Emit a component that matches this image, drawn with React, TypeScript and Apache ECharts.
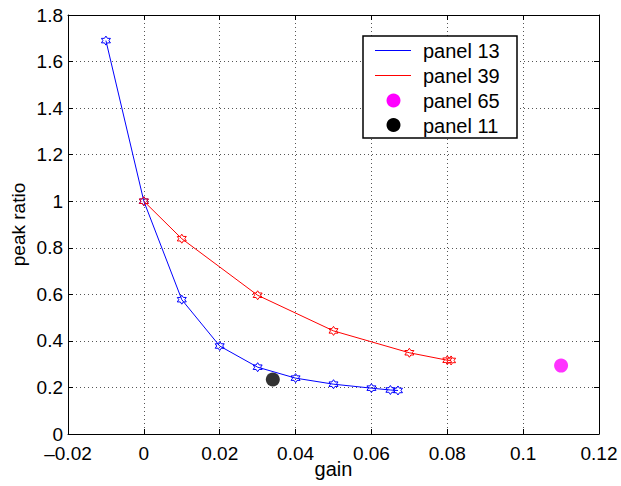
import React, { useEffect, useRef } from "react";
import * as echarts from "echarts";

const blueX = [-0.01, 0, 0.01, 0.02, 0.03, 0.04, 0.05, 0.06, 0.065, 0.067];
const blueY = [1.69, 1.0, 0.577, 0.378, 0.287, 0.24, 0.214, 0.197, 0.189, 0.187];
const redX = [0, 0.01, 0.03, 0.05, 0.07, 0.08, 0.081];
const redY = [1.0, 0.839, 0.596, 0.443, 0.349, 0.317, 0.316];
const panel65 = [[0.11, 0.294]];
const panel11 = [[0.034, 0.234]];
const legendNames = ["panel 13", "panel 39", "panel 65", "panel 11"];

const FONT = "'Liberation Sans', Arial, Helvetica, sans-serif";
const HEX =
  "path://M50,0 L64.43,25 L93.3,25 L78.87,50 L93.3,75 L64.43,75 L50,100 L35.57,75 L6.7,75 L21.13,50 L6.7,25 L35.57,25 Z";

const fmt = (v: number) => {
  const n = parseFloat(v.toFixed(4));
  const s = String(Math.abs(n));
  return n < 0 ? "\u2013" + s : s;
};

export default function App() {
  const ref = useRef<HTMLDivElement>(null);
  useEffect(() => {
    const chart = echarts.init(ref.current!, null, { renderer: "svg" });
    const zip = (xs: number[], ys: number[]) => xs.map((x, i) => [x, ys[i]]);
    const grid = {
      left: 68,
      right: 22,
      top: 15,
      bottom: 52,
      containLabel: false,
      outerBoundsMode: "none",
    };
    const lx = 363, ly = 36;
    const rows = [50.5, 75.5, 100.5, 125];
    chart.setOption({
      animation: false,
      backgroundColor: "#fff",
      textStyle: { fontFamily: FONT },
      grid,
      xAxis: [
        {
          type: "value",
          min: -0.02,
          max: 0.12,
          interval: 0.02,
          name: "gain",
          nameLocation: "middle",
          nameGap: 25,
          nameMoveOverlap: false,
          nameTextStyle: { color: "#000", fontSize: 20, fontFamily: FONT },
          axisLine: { show: true, onZero: false, lineStyle: { color: "#000", width: 1 } },
          axisTick: { show: true, inside: true, length: 5, lineStyle: { color: "#000" } },
          axisLabel: { color: "#000", fontSize: 19, lineHeight: 16, fontFamily: FONT, margin: 11, formatter: fmt },
          splitLine: { show: true, lineStyle: { color: "#555", type: [1, 3], width: 1 } },
        },
        {
          type: "value",
          position: "top",
          min: -0.02,
          max: 0.12,
          interval: 0.02,
          axisLine: { show: true, onZero: false, lineStyle: { color: "#000", width: 1 } },
          axisTick: { show: true, inside: true, length: 5, lineStyle: { color: "#000" } },
          axisLabel: { show: false },
          splitLine: { show: false },
        },
      ],
      yAxis: [
        {
          type: "value",
          min: 0,
          max: 1.8,
          interval: 0.2,
          name: "peak ratio",
          nameLocation: "middle",
          nameGap: 40,
          nameMoveOverlap: false,
          nameTextStyle: { color: "#000", fontSize: 19, fontFamily: FONT },
          axisLine: { show: true, onZero: false, lineStyle: { color: "#000", width: 1 } },
          axisTick: { show: true, inside: true, length: 5, lineStyle: { color: "#000" } },
          axisLabel: { color: "#000", fontSize: 19, lineHeight: 14, fontFamily: FONT, margin: 5, formatter: fmt },
          splitLine: { show: true, lineStyle: { color: "#555", type: [1, 3], width: 1 } },
        },
        {
          type: "value",
          position: "right",
          min: 0,
          max: 1.8,
          interval: 0.2,
          axisLine: { show: true, onZero: false, lineStyle: { color: "#000", width: 1 } },
          axisTick: { show: true, inside: true, length: 5, lineStyle: { color: "#000" } },
          axisLabel: { show: false },
          splitLine: { show: false },
        },
      ],
      series: [
        {
          name: legendNames[0],
          type: "line",
          data: zip(blueX, blueY),
          color: "#0000ff",
          lineStyle: { color: "#0000ff", width: 1 },
          symbol: HEX,
          symbolSize: 9,
          itemStyle: { color: "rgba(255,255,255,0)", borderColor: "#0000ff", borderWidth: 1 },
          z: 3,
        },
        {
          name: legendNames[1],
          type: "line",
          data: zip(redX, redY),
          color: "#ff0000",
          lineStyle: { color: "#ff0000", width: 1 },
          symbol: HEX,
          symbolSize: 9,
          itemStyle: { color: "rgba(255,255,255,0)", borderColor: "#ff0000", borderWidth: 1 },
          z: 4,
        },
        {
          name: legendNames[2],
          type: "scatter",
          data: panel65,
          symbol: "circle",
          symbolSize: 14,
          itemStyle: { color: "#ff00ff" },
        },
        {
          name: legendNames[3],
          type: "scatter",
          data: panel11,
          symbol: "circle",
          symbolSize: 14,
          itemStyle: { color: "#000000" },
        },
      ],
      graphic: [
        {
          type: "rect",
          shape: { x: lx, y: ly, width: 154, height: 102 },
          style: { fill: "#fff", stroke: "#000", lineWidth: 1.5 },
          z: 100,
        },
        {
          type: "line",
          shape: { x1: lx + 12, y1: rows[0], x2: lx + 48, y2: rows[0] },
          style: { stroke: "#0000ff", lineWidth: 1 },
          z: 101,
        },
        {
          type: "line",
          shape: { x1: lx + 12, y1: rows[1], x2: lx + 48, y2: rows[1] },
          style: { stroke: "#ff0000", lineWidth: 1 },
          z: 101,
        },
        {
          type: "circle",
          shape: { cx: lx + 30.5, cy: rows[2], r: 7 },
          style: { fill: "#ff00ff" },
          z: 101,
        },
        {
          type: "circle",
          shape: { cx: lx + 30.5, cy: rows[3], r: 7 },
          style: { fill: "#000" },
          z: 101,
        },
        ...legendNames.map((n, i) => ({
          type: "text",
          x: lx + 60,
          y: rows[i] + 0.5,
          style: {
            text: n,
            fill: "#000",
            font: `20px ${FONT}`,
            verticalAlign: "middle",
          },
          z: 101,
        })),
      ],
    });
    return () => chart.dispose();
  }, []);
  return (
    <div
      ref={ref}
      style={{ position: "fixed", left: 0, top: 0, width: 621, height: 486 }}
    />
  );
}
